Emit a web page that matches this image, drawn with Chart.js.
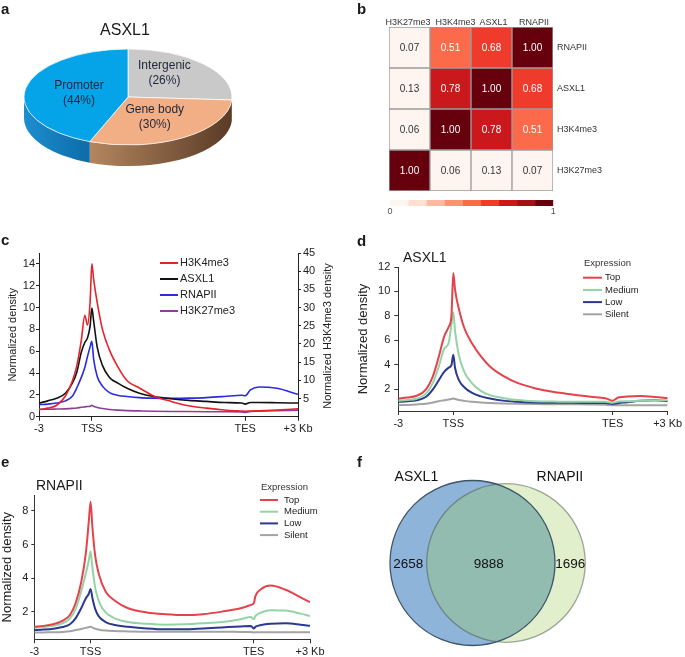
<!DOCTYPE html>
<html>
<head>
<meta charset="utf-8">
<title>ASXL1 figure</title>
<script src="https://cdn.jsdelivr.net/npm/chart.js@4.4.1/dist/chart.umd.min.js"></script>
<style>
  body { margin: 0; background: #fff; }
  #fig { position: relative; width: 685px; height: 657px; overflow: hidden;
         font-family: 'Liberation Sans', Arial, sans-serif; color: #1a1a1a; }
  #fig canvas, #fig .t { position: absolute; }
  .t { line-height: 1; white-space: nowrap; }
  .p { font-weight: bold; font-size: 15px; }
</style>
</head>
<body>
<div id="fig">
  <canvas id="pie" width="340" height="215" style="left:0;top:0"></canvas>
  <canvas id="heat" width="340" height="215" style="left:345px;top:0"></canvas>
  <canvas id="scale" width="340" height="22" style="left:345px;top:196px"></canvas>
  <canvas id="profC" width="340" height="212" style="left:0;top:228px"></canvas>
  <canvas id="profD" width="340" height="212" style="left:345px;top:228px"></canvas>
  <canvas id="profE" width="340" height="212" style="left:0;top:445px"></canvas>
  <canvas id="venn" width="340" height="212" style="left:345px;top:445px"></canvas>

  <div class="t p" style="left:1px;top:1px">a</div>
  <div class="t p" style="left:357px;top:1px">b</div>
  <div class="t p" style="left:1px;top:232px">c</div>
  <div class="t p" style="left:357px;top:233px">d</div>
  <div class="t p" style="left:1px;top:454px">e</div>
  <div class="t p" style="left:357px;top:454px">f</div>
  <div class="t" style="left:75px;top:22px;width:100px;text-align:center;font-size:16px">ASXL1</div>
  <div class="t" style="left:403px;top:250px;font-size:14px">ASXL1</div>
  <div class="t" style="left:36px;top:478px;font-size:14px">RNAPII</div>
</div>

<script>
// a: peak distribution
const pieLabels = ['Intergenic', 'Gene body', 'Promoter'];
const pieValues = [26, 30, 44];

// b: correlation
const corrCols = ['H3K27me3', 'H3K4me3', 'ASXL1', 'RNAPII'];
const corrRows = ['RNAPII', 'ASXL1', 'H3K4me3', 'H3K27me3'];
const corrRNAPII = [0.07, 0.51, 0.68, 1.00];
const corrASXL1 = [0.13, 0.78, 1.00, 0.68];
const corrH3K4me3 = [0.06, 1.00, 0.78, 0.51];
const corrH3K27me3 = [1.00, 0.06, 0.13, 0.07];
const colorbarTicks = ['0', '1'];

// profile x axis (scaled gene body)
const profileTickPos = [-3, 0, 8.7, 11.7];
const profileTickLabels = ['-3', 'TSS', 'TES', '+3 Kb'];

// c
const cLeftTicks = [0, 2, 4, 6, 8, 10, 12, 14];
const cRightTicks = [5, 10, 15, 20, 25, 30, 35, 40, 45];
const cX = [-3, -2.5, -2, -1.5, -1.1, -0.85, -0.6, -0.4, -0.25, -0.1, 0, 0.1, 0.3, 0.6, 1, 1.5, 2, 2.7, 3.5, 4.5, 5.5, 6.5, 7.5, 8.5, 8.7, 9, 9.5, 10.5, 11.7];
const cH3K4me3 = [1.95, 2.35, 3.15, 5.7, 9.9, 14.1, 21.0, 27.9, 25.2, 31.5, 42.0, 37.8, 31.5, 24.0, 18.3, 13.5, 9.9, 7.9, 5.7, 4.2, 3.0, 2.35, 1.85, 1.55, 1.5, 1.55, 1.65, 1.85, 2.15];
const cASXL1 = [1.25, 1.45, 1.7, 2.15, 3.1, 4.1, 5.9, 6.8, 7.2, 8.3, 9.95, 8.8, 6.4, 4.7, 3.6, 3.05, 2.6, 2.15, 1.85, 1.65, 1.5, 1.4, 1.3, 1.25, 1.15, 1.3, 1.3, 1.28, 1.25];
const cRNAPII = [1.1, 1.15, 1.25, 1.45, 1.9, 2.65, 3.6, 4.5, 5.5, 6.4, 6.9, 5.3, 3.7, 2.8, 2.2, 1.95, 1.85, 1.75, 1.7, 1.68, 1.7, 1.75, 1.85, 1.97, 1.92, 2.45, 2.72, 2.6, 2.05];
const cH3K27me3 = [0.68, 0.68, 0.7, 0.72, 0.76, 0.8, 0.86, 0.9, 0.93, 0.96, 1.05, 0.95, 0.85, 0.75, 0.66, 0.6, 0.56, 0.53, 0.5, 0.48, 0.47, 0.46, 0.45, 0.44, 0.4, 0.47, 0.5, 0.55, 0.6];

// d: ASXL1 by expression
const dTicks = [2, 4, 6, 8, 10, 12];
const dX = [-3, -2.5, -2, -1.5, -1.1, -0.8, -0.5, -0.25, -0.1, 0, 0.1, 0.3, 0.6, 1, 1.5, 2, 2.7, 3.5, 4.5, 5.5, 6.5, 7.5, 8.3, 8.7, 9, 9.5, 10.2, 11, 11.7];
const dTop = [1.23, 1.3, 1.45, 1.95, 3.1, 4.6, 6.3, 7.1, 8.0, 11.5, 10.1, 8.6, 7.0, 5.8, 4.7, 3.85, 3.1, 2.5, 2.05, 1.75, 1.55, 1.37, 1.25, 1.05, 1.3, 1.38, 1.42, 1.35, 1.25];
const dMedium = [1.04, 1.1, 1.2, 1.6, 2.55, 3.8, 5.3, 5.8, 7.3, 8.3, 6.7, 4.8, 3.4, 2.5, 1.85, 1.5, 1.27, 1.1, 1.0, 0.97, 0.95, 0.95, 0.95, 0.87, 0.98, 1.0, 1.05, 1.07, 1.08];
const dLow = [0.95, 1.0, 1.08, 1.35, 2.0, 2.7, 3.4, 3.75, 3.95, 4.8, 3.7, 2.75, 2.15, 1.7, 1.4, 1.22, 1.05, 0.96, 0.9, 0.87, 0.87, 0.86, 0.85, 0.78, 0.84, 0.92, 1.04, 1.08, 1.0];
const dSilent = [0.68, 0.7, 0.74, 0.8, 0.9, 1.0, 1.08, 1.15, 1.18, 1.23, 1.18, 1.1, 1.03, 0.96, 0.9, 0.86, 0.82, 0.79, 0.77, 0.76, 0.75, 0.74, 0.72, 0.68, 0.68, 0.68, 0.68, 0.68, 0.68];

// e: RNAPII by expression
const eTicks = [2, 4, 6, 8];
const eX = [-3, -2.5, -2, -1.5, -1.1, -0.8, -0.5, -0.25, -0.1, 0, 0.1, 0.25, 0.45, 0.8, 1.3, 2, 3, 4, 5, 6, 7, 8, 8.55, 8.7, 8.8, 9.1, 9.6, 10.4, 11.2, 11.7];
const eTop = [1.1, 1.15, 1.25, 1.45, 1.8, 2.5, 3.75, 5.5, 7.3, 8.55, 7.0, 5.3, 4.2, 3.2, 2.65, 2.2, 1.95, 1.85, 1.8, 1.85, 2.0, 2.2, 2.4, 2.5, 2.95, 3.35, 3.55, 3.3, 2.85, 2.56];
const eMedium = [1.05, 1.08, 1.15, 1.3, 1.6, 2.15, 3.2, 4.3, 5.0, 5.6, 4.6, 3.4, 2.6, 1.95, 1.6, 1.38, 1.27, 1.22, 1.24, 1.3, 1.38, 1.55, 1.68, 1.55, 1.75, 1.95, 2.08, 2.06, 1.88, 1.74];
const eLow = [0.9, 0.93, 0.98, 1.08, 1.25, 1.6, 2.2, 2.8, 3.05, 3.35, 2.8, 2.15, 1.7, 1.38, 1.2, 1.1, 1.0, 0.95, 0.95, 1.0, 1.06, 1.12, 1.15, 1.0, 1.1, 1.2, 1.27, 1.3, 1.22, 1.15];
const eSilent = [0.75, 0.76, 0.77, 0.79, 0.83, 0.9, 0.97, 1.03, 1.07, 1.1, 1.05, 0.98, 0.92, 0.87, 0.84, 0.82, 0.8, 0.8, 0.8, 0.8, 0.8, 0.79, 0.78, 0.76, 0.77, 0.77, 0.77, 0.77, 0.77, 0.77];

// f: overlap (only ASXL1, both, only RNAPII)
const vennSets = ['ASXL1', 'RNAPII'];
const vennCounts = [2658, 9888, 1696];

const FONT = "'Liberation Sans', Arial, sans-serif";
Chart.defaults.font.family = FONT;
Chart.defaults.color = '#222';
Chart.defaults.animation = false;
Chart.defaults.responsive = false;
Chart.defaults.events = [];
Chart.defaults.plugins.legend.display = false;
Chart.defaults.plugins.tooltip.enabled = false;

const fixWidth = w => s => { s.width = w; };
const fixHeight = h => s => { s.height = h; };
const setTicks = vals => s => { s.ticks = vals.map(v => ({ value: v })); };

// ---------- a: pseudo-3D pie ----------
const pie3d = {
  id: 'pie3d',
  beforeDatasetsDraw(chart, args, o) {
    const ctx = chart.ctx;
    const arcs = chart.getDatasetMeta(0).data;
    const cx = arcs[0].x, rx = arcs[0].outerRadius, ry = rx * o.tilt;
    ctx.save();
    arcs.forEach((arc, i) => {
      const s = Math.max(arc.startAngle, 0), e = Math.min(arc.endAngle, Math.PI);
      if (e <= s) return;
      const g = ctx.createLinearGradient(cx + rx * Math.cos(e), 0, cx + rx * Math.cos(s), 0);
      g.addColorStop(0, o.side[i][0]);
      g.addColorStop(1, o.side[i][1]);
      ctx.fillStyle = g;
      ctx.beginPath();
      ctx.ellipse(cx, o.cy, rx, ry, 0, s, e);
      ctx.ellipse(cx, o.cy + o.depth, rx, ry, 0, e, s, true);
      ctx.closePath();
      ctx.fill();
    });
    ctx.translate(0, o.cy);
    ctx.scale(1, o.tilt);
    ctx.translate(0, -arcs[0].y);
  },
  afterDatasetsDraw(chart, args, o) {
    const ctx = chart.ctx;
    ctx.restore();
    const arcs = chart.getDatasetMeta(0).data;
    const cx = arcs[0].x, rx = arcs[0].outerRadius, ry = rx * o.tilt;
    const vals = chart.data.datasets[0].data;
    ctx.save();
    ctx.font = '12px ' + FONT;
    ctx.fillStyle = '#1e2638';
    ctx.textAlign = 'center';
    ctx.textBaseline = 'middle';
    arcs.forEach((arc, i) => {
      const m = (arc.startAngle + arc.endAngle) / 2;
      const x = cx + rx * o.labelR * Math.cos(m);
      const y = o.cy + ry * o.labelR * Math.sin(m) + o.labelDy[i];
      ctx.fillText(chart.data.labels[i], x, y - 7);
      ctx.fillText('(' + vals[i] + '%)', x, y + 8);
    });
    ctx.restore();
  }
};

new Chart(document.getElementById('pie'), {
  type: 'pie',
  data: {
    labels: pieLabels,
    datasets: [{
      data: pieValues,
      backgroundColor: ['#c9c9c9', '#f2ae84', '#05a3e8'],
      borderColor: '#ffffff', borderWidth: 1, radius: 104, clip: false
    }]
  },
  options: {
    layout: { padding: { left: 24, right: 108, top: 0, bottom: 0 } },
    plugins: {
      pie3d: {
        cy: 97, tilt: 48 / 104, depth: 21, labelR: 0.48, labelDy: [-9, 0, 0],
        side: [['#9c9c9c', '#7c7c7c'], ['#b3865f', '#5a3b26'], ['#1d8ecf', '#0d6ba8']]
      }
    }
  },
  plugins: [pie3d]
});

// ---------- b: correlation heatmap ----------
const corrMatrix = [corrRNAPII, corrASXL1, corrH3K4me3, corrH3K27me3];
const reds = ['#fff5f0', '#fee0d2', '#fcbba1', '#fc9272', '#fb6a4a', '#ef3b2c', '#cb181d', '#a50f15', '#67000d'];
const corrLo = Math.min(...corrMatrix.flat());
const shade = v => Math.min(reds.length - 1, Math.floor((v - corrLo) / (1 - corrLo) * reds.length));

const cellText = {
  id: 'cellText',
  afterDatasetsDraw(chart, args, o) {
    const ctx = chart.ctx;
    ctx.save();
    ctx.font = '10px ' + FONT;
    ctx.textAlign = 'center';
    ctx.textBaseline = 'middle';
    chart.data.datasets.forEach((ds, di) => {
      chart.getDatasetMeta(di).data.forEach((bar, j) => {
        const v = ds.values[j];
        ctx.fillStyle = shade(v) >= 4 ? '#ffffff' : '#333333';
        ctx.fillText(v.toFixed(2), bar.x, (bar.y + bar.base) / 2 + 0.5);
      });
    });
    // column headers
    ctx.font = '9px ' + FONT;
    ctx.fillStyle = '#333';
    ctx.textBaseline = 'alphabetic';
    const xs = chart.scales.x;
    chart.data.labels.forEach((lab, i) => {
      ctx.fillText(lab, xs.getPixelForTick(i) + o.colDx[i], chart.chartArea.top - 2);
    });
    ctx.restore();
  }
};

const heatSets = [];
for (let r = corrRows.length - 1; r >= 0; r--) {
  heatSets.push({
    label: corrRows[r],
    values: corrMatrix[r],
    data: corrMatrix[r].map(() => 1),
    backgroundColor: corrMatrix[r].map(v => reds[shade(v)])
  });
}

new Chart(document.getElementById('heat'), {
  type: 'bar',
  data: { labels: corrCols, datasets: heatSets },
  options: {
    layout: { padding: { left: 44, top: 0, right: 0, bottom: 24 } },
    datasets: { bar: { barPercentage: 1, categoryPercentage: 1, borderWidth: 1, borderColor: '#9c9c9c', borderSkipped: false } },
    scales: {
      x: {
        position: 'top', stacked: true, afterFit: fixHeight(27),
        grid: { display: false, drawTicks: false }, border: { display: false },
        ticks: { display: false }
      },
      y: {
        position: 'right', stacked: true, min: 0, max: 4,
        afterBuildTicks: setTicks([0.5, 1.5, 2.5, 3.5]), afterFit: fixWidth(132),
        grid: { display: false, drawTicks: false }, border: { display: false },
        ticks: { padding: 4, font: { size: 9 }, color: '#333', callback: (v, i) => corrRows[corrRows.length - 1 - i] }
      }
    },
    plugins: { cellText: { colDx: [-1.5, 5, 2, 1.5] } }
  },
  plugins: [cellText]
});

new Chart(document.getElementById('scale'), {
  type: 'bar',
  data: { labels: [''], datasets: reds.map(c => ({ data: [1], backgroundColor: c })) },
  options: {
    indexAxis: 'y',
    layout: { padding: { left: 45, right: 131.7, top: 4, bottom: 0 } },
    datasets: { bar: { barPercentage: 1, categoryPercentage: 1, borderWidth: 0 } },
    scales: {
      x: {
        stacked: true, min: 0, max: reds.length,
        afterBuildTicks: setTicks([0, reds.length]), afterFit: fixHeight(12),
        grid: { display: false, drawTicks: false }, border: { display: false },
        ticks: { padding: 0, font: { size: 9 }, color: '#555', callback: (v, i) => colorbarTicks[i] }
      },
      y: { stacked: true, display: false }
    }
  }
});

// ---------- c, d, e: profiles ----------
const lineLegend = {
  id: 'lineLegend',
  afterDraw(chart, args, o) {
    if (!o.x) return;
    const ctx = chart.ctx;
    ctx.save();
    ctx.font = o.size + 'px ' + FONT;
    ctx.textAlign = 'left';
    ctx.textBaseline = 'middle';
    let y = o.y;
    if (o.header) {
      ctx.fillStyle = '#333';
      ctx.fillText(o.header, o.x + 1, y);
      y += o.headerGap;
    }
    chart.data.datasets.forEach(ds => {
      ctx.strokeStyle = ds.borderColor;
      ctx.lineWidth = o.lineWidth;
      ctx.beginPath();
      ctx.moveTo(o.x, y);
      ctx.lineTo(o.x + o.len, y);
      ctx.stroke();
      ctx.fillStyle = '#222';
      ctx.fillText(ds.label, o.x + o.len + o.gap, y);
      y += o.step;
    });
    ctx.restore();
  }
};

const sideTitle = {
  id: 'sideTitle',
  afterDraw(chart, args, o) {
    if (!o.text) return;
    const ctx = chart.ctx;
    ctx.save();
    ctx.translate(o.x, o.y);
    ctx.rotate(-Math.PI / 2);
    ctx.font = o.size + 'px ' + FONT;
    ctx.fillStyle = '#222';
    ctx.textAlign = 'center';
    ctx.textBaseline = 'middle';
    ctx.fillText(o.text, 0, 0);
    ctx.restore();
  }
};

function profile(id, xs, sets, o) {
  const datasets = sets.map(s => ({
    label: s.label,
    data: xs.map((x, i) => ({ x: x, y: s.values[i] })),
    borderColor: s.color, backgroundColor: s.color,
    borderWidth: o.lineWidth, pointRadius: 0,
    cubicInterpolationMode: 'monotone', yAxisID: s.axis || 'y'
  }));
  const scales = {
    x: {
      type: 'linear', min: profileTickPos[0], max: profileTickPos[profileTickPos.length - 1],
      afterBuildTicks: setTicks(profileTickPos), afterFit: fixHeight(o.xHeight),
      border: { color: o.axisColor },
      grid: { drawOnChartArea: false, tickLength: 4, color: o.axisColor },
      ticks: { autoSkip: false, maxRotation: 0, padding: 2, font: { size: 11 }, callback: (v, i) => profileTickLabels[i] }
    },
    y: {
      min: o.yMin, max: o.yMax,
      afterBuildTicks: setTicks(o.yTicks), afterFit: fixWidth(o.yWidth),
      border: { color: o.axisColor },
      grid: { drawOnChartArea: false, tickLength: o.tickLen, color: o.axisColor },
      ticks: { padding: o.tickPad, font: { size: 11 } },
      title: { display: true, text: 'Normalized density', color: '#222', font: { size: o.titleSize }, padding: o.titlePad }
    }
  };
  if (o.y1) scales.y1 = o.y1;
  return new Chart(document.getElementById(id), {
    type: 'line',
    data: { datasets: datasets },
    options: {
      layout: { padding: o.padding },
      scales: scales,
      plugins: { lineLegend: o.legend, sideTitle: o.side || {} }
    },
    plugins: [lineLegend, sideTitle]
  });
}

profile('profC', cX, [
  { label: 'H3K4me3', values: cH3K4me3, color: '#e5232b', axis: 'y1' },
  { label: 'ASXL1', values: cASXL1, color: '#111111' },
  { label: 'RNAPII', values: cRNAPII, color: '#2a2ae6' },
  { label: 'H3K27me3', values: cH3K27me3, color: '#8e3f98' }
], {
  lineWidth: 1.6, axisColor: '#222', xHeight: 23.3, yWidth: 37, tickLen: 3, tickPad: 1,
  yMin: 0, yMax: 15, yTicks: cLeftTicks, titleSize: 11, titlePad: { top: 4, bottom: 0 },
  padding: { left: 2, top: 25, right: 0, bottom: 0 },
  y1: {
    position: 'right', min: 0, max: 45,
    afterBuildTicks: setTicks(cRightTicks), afterFit: fixWidth(42),
    border: { color: '#222' },
    grid: { drawOnChartArea: false, tickLength: 3, color: '#222' },
    ticks: { padding: 2, font: { size: 11 } }
  },
  legend: { x: 160, y: 35, step: 16, len: 18, gap: 2, size: 11, lineWidth: 2 },
  side: { text: 'Normalized H3K4me3 density', x: 328, y: 108, size: 11 }
});

profile('profD', dX, [
  { label: 'Top', values: dTop, color: '#e4434b' },
  { label: 'Medium', values: dMedium, color: '#94d3a6' },
  { label: 'Low', values: dLow, color: '#2b3a8e' },
  { label: 'Silent', values: dSilent, color: '#a3a3a3' }
], {
  lineWidth: 2, axisColor: '#333', xHeight: 29, yWidth: 46.3, tickLen: 4, tickPad: 4,
  yMin: 0.2, yMax: 12, yTicks: dTicks, titleSize: 13, titlePad: { top: 4, bottom: 0 },
  padding: { left: 7, top: 39, right: 17.3, bottom: 0 },
  legend: { x: 238, y: 35.3, header: 'Expression', headerGap: 14.4, step: 12.2, len: 19, gap: 3, size: 9.5, lineWidth: 2 }
});

profile('profE', eX, [
  { label: 'Top', values: eTop, color: '#e4434b' },
  { label: 'Medium', values: eMedium, color: '#94d3a6' },
  { label: 'Low', values: eLow, color: '#2b3a8e' },
  { label: 'Silent', values: eSilent, color: '#a3a3a3' }
], {
  lineWidth: 2, axisColor: '#333', xHeight: 17.7, yWidth: 34.3, tickLen: 3, tickPad: 3,
  yMin: 0.35, yMax: 8.95, yTicks: eTicks, titleSize: 13, titlePad: { top: 0, bottom: 0 },
  padding: { left: 0, top: 50, right: 30, bottom: 0 },
  legend: { x: 260, y: 42.7, header: 'Expression', headerGap: 12.3, step: 11.7, len: 18, gap: 6, size: 9.5, lineWidth: 2 }
});

// ---------- f: Venn ----------
const vennScale = 0.7366;
const vennSizes = [vennCounts[0] + vennCounts[1], vennCounts[1] + vennCounts[2]];

const venn = {
  id: 'venn',
  afterDatasetsDraw(chart, args, o) {
    const ctx = chart.ctx;
    const [a, b] = [0, 1].map(i => chart.getDatasetMeta(i).data[0]);
    const ra = a.options.radius, rb = b.options.radius;
    ctx.save();
    ctx.beginPath();
    ctx.arc(a.x, a.y, ra, 0, Math.PI * 2);
    ctx.clip();
    ctx.beginPath();
    ctx.arc(b.x, b.y, rb, 0, Math.PI * 2);
    ctx.fillStyle = o.overlap;
    ctx.fill();
    ctx.restore();

    ctx.save();
    ctx.lineWidth = 1.3;
    ctx.strokeStyle = o.edgeB;
    ctx.beginPath();
    ctx.arc(b.x, b.y, rb, 0, Math.PI * 2);
    ctx.stroke();
    ctx.strokeStyle = o.edgeA;
    ctx.beginPath();
    ctx.arc(a.x, a.y, ra, 0, Math.PI * 2);
    ctx.stroke();

    ctx.fillStyle = '#111';
    ctx.textAlign = 'center';
    ctx.textBaseline = 'middle';
    ctx.font = '14px ' + FONT;
    const top = a.y - Math.max(ra, rb) - 3;
    ctx.fillText(chart.data.labels[0], a.x - ra * 0.68, top);
    ctx.fillText(chart.data.labels[1], b.x + rb * 0.68, top);
    ctx.font = '13.5px ' + FONT;
    const cy = a.y + 1;
    ctx.fillText(String(vennCounts[0]), ((a.x - ra) + (b.x - rb)) / 2, cy);
    ctx.fillText(String(vennCounts[1]), ((b.x - rb) + (a.x + ra)) / 2 - 2, cy);
    ctx.fillText(String(vennCounts[2]), ((a.x + ra) + (b.x + rb)) / 2, cy);
    ctx.restore();
  }
};

new Chart(document.getElementById('venn'), {
  type: 'bubble',
  data: {
    labels: vennSets,
    datasets: [
      { label: vennSets[0], data: [{ x: vennSets[0], y: 0, r: vennScale * Math.sqrt(vennSizes[0]) }], backgroundColor: '#8fb4da', borderWidth: 0, clip: false },
      { label: vennSets[1], data: [{ x: vennSets[1], y: 0, r: vennScale * Math.sqrt(vennSizes[1]) }], backgroundColor: '#e2efcc', borderWidth: 0, clip: false }
    ]
  },
  options: {
    layout: { padding: { left: 127.5, right: 179, top: 108, bottom: 84 } },
    scales: {
      x: { type: 'category', labels: vennSets, offset: false, display: false },
      y: { min: -1, max: 1, display: false }
    },
    plugins: { venn: { overlap: '#93bcb1', edgeA: '#3d5468', edgeB: 'rgba(70,85,70,0.5)' } }
  },
  plugins: [venn]
});
</script>
</body>
</html>
